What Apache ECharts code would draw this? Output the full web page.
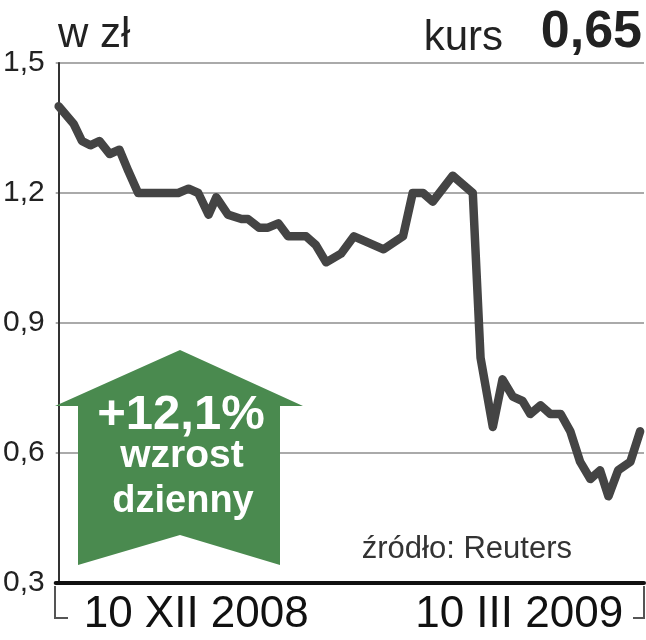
<!DOCTYPE html>
<html>
<head>
<meta charset="utf-8">
<script src="https://cdn.jsdelivr.net/npm/echarts@6/dist/echarts.min.js"></script>
<style>
html,body{margin:0;padding:0;background:#fff;}
#chart{width:646px;height:640px;}
</style>
</head>
<body>
<div id="chart"></div>
<script>
// Days since 10 XII 2008
var days = [0, 2.3, 3.6, 4.9, 6.3, 7.9, 9.4, 10.8, 12.3, 18.5, 20.1, 21.6, 23.2, 24.4, 26.2, 28.3, 29.3, 31, 32.4, 34, 35.5, 38.3, 39.8, 41.4, 43.7, 45.7, 50.3, 53.3, 54.8, 56.4, 57.9, 61, 64.1, 65.3, 67.2, 68.7, 70.3, 71.8, 73, 74.6, 76.1, 77.7, 79.2, 80.7, 82.3, 83.8, 85.1, 86.6, 88.5, 90];
var prices = [1.40, 1.36, 1.32, 1.31, 1.32, 1.29, 1.30, 1.25, 1.20, 1.20, 1.21, 1.20, 1.15, 1.19, 1.15, 1.14, 1.14, 1.12, 1.12, 1.13, 1.10, 1.10, 1.08, 1.04, 1.06, 1.10, 1.07, 1.10, 1.20, 1.20, 1.18, 1.24, 1.20, 0.82, 0.66, 0.77, 0.73, 0.72, 0.69, 0.71, 0.69, 0.69, 0.65, 0.58, 0.54, 0.56, 0.50, 0.56, 0.58, 0.65];
var yTicks = [0.3, 0.6, 0.9, 1.2, 1.5];
var xLabels = ['10 XII 2008', '10 III 2009'];
var xLabelDays = [0, 90];
var unitText = 'w zł';
var kursLabel = 'kurs';
var kursValue = '0,65';
var badgeLines = ['+12,1%', 'wzrost', 'dzienny'];
var sourceText = 'źródło: Reuters';

var chart = echarts.init(document.getElementById('chart'), null, {renderer: 'canvas'});
var data = days.map(function (d, i) { return [d, prices[i]]; });
var F = '"Liberation Sans", Arial, sans-serif';

var option = {
  animation: false,
  grid: {left: 54, right: 2, top: 63, bottom: 57, containLabel: false},
  xAxis: {
    type: 'value', min: -0.46, max: 90.6,
    axisLine: {show: true, onZero: false, lineStyle: {color: '#111', width: 4}},
    axisTick: {show: false}, axisLabel: {show: false}, splitLine: {show: false}
  },
  yAxis: {
    type: 'value', min: yTicks[0], max: yTicks[yTicks.length - 1], interval: 0.3,
    axisLine: {show: true, lineStyle: {color: '#333', width: 2}},
    axisTick: {show: false},
    axisLabel: {
      color: '#222', fontFamily: F, fontSize: 30, margin: 11,
      formatter: function (v) { return v.toFixed(1).replace('.', ','); }
    },
    splitLine: {show: true, lineStyle: {color: '#aaa', width: 2}}
  },
  series: [{
    type: 'line', data: data, showSymbol: false, symbol: 'none', smooth: false,
    lineStyle: {color: '#444', width: 8.5, join: 'round', cap: 'round'},
    z: 5
  }]
};
chart.setOption(option);

var x0 = chart.convertToPixel({xAxisIndex: 0}, xLabelDays[0]);
var x1 = chart.convertToPixel({xAxisIndex: 0}, xLabelDays[1]);
var axL = 54, axR = 644;

function txt(x, y, s, font, fill, align, z) {
  return {type: 'text', z: z || 1, style: {x: x, y: y, text: s, font: font, fill: fill, textAlign: align, textVerticalAlign: 'top'}};
}

chart.setOption({
  graphic: [
    txt(58, 14, unitText, '42px ' + F, '#222', 'left'),
    txt(503, 17, kursLabel, '42px ' + F, '#222', 'right'),
    txt(642, 7, kursValue, 'bold 52px ' + F, '#222', 'right'),
    // green arrow badge
    {type: 'polygon', z: 10, shape: {points: [[180, 350], [303, 406], [280, 406], [280, 565], [180, 535], [78, 565], [78, 406], [55, 406]]}, style: {fill: '#4a8a4f'}},
    txt(181, 391, badgeLines[0], 'bold 49px ' + F, '#fff', 'center', 11),
    txt(182, 437, badgeLines[1], 'bold 39px ' + F, '#fff', 'center', 11),
    txt(183, 483, badgeLines[2], 'bold 38px ' + F, '#fff', 'center', 11),
    txt(572, 534, sourceText, '31px ' + F, '#333', 'right'),
    // bottom brackets
    {type: 'polyline', shape: {points: [[axL + 1, 586], [axL + 1, 618], [axL + 14, 618]]}, style: {stroke: '#555', lineWidth: 2, fill: null}},
    {type: 'polyline', shape: {points: [[axR, 586], [axR, 618], [axR - 11, 618]]}, style: {stroke: '#555', lineWidth: 2, fill: null}},
    // date labels
    txt(x0 + 25, 593, xLabels[0], '44px ' + F, '#111', 'left'),
    txt(x1 - 17, 593, xLabels[1], '44px ' + F, '#111', 'right')
  ]
});
</script>
</body>
</html>
